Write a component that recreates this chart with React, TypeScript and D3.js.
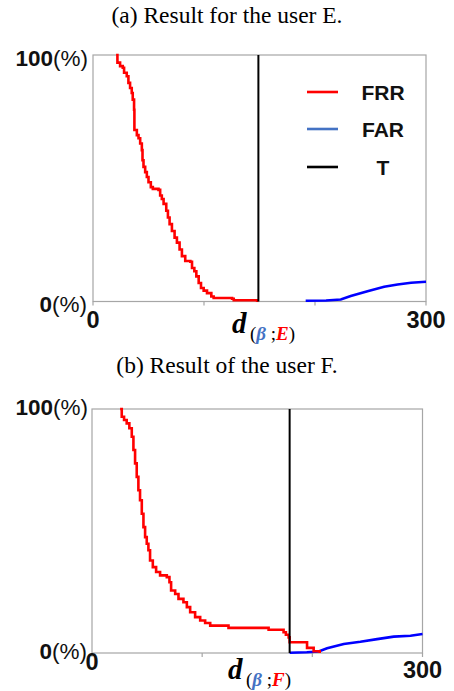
import React from "react";
import * as d3 from "d3";

// ---- Data ----
const xTicks = [0, 100, 200, 300];
const xTickLabels = ["0", "300"];
const yTickLabels = ["100", "0"];
const legendLabels = ["FRR", "FAR", "T"];

// Panel (a): user E
const frrA_d = [20.8, 22.0, 24.4, 26.8, 28.0, 30.4, 31.9, 33.4, 34.9, 35.8, 37.0, 37.3, 39.5, 41.0, 42.5, 44.0, 44.6, 45.5, 47.0, 48.5, 50.0, 52.1, 53.9, 59.0, 60.5, 62.0, 63.6, 66.0, 67.5, 69.0, 71.1, 73.5, 75.6, 78.0, 80.1, 83.1, 87.7, 89.2, 91.3, 93.1, 95.2, 97.3, 99.7, 102.7, 106.6, 108.7, 125.3, 126.8, 147.9, 149];
const frrA_p = [100, 96.9, 95.5, 94.8, 92.8, 91.4, 88.7, 86.6, 84.6, 81.9, 77.8, 69.6, 67.5, 66.2, 64.1, 61.4, 57.3, 54.6, 52.5, 50.5, 48.4, 46.4, 45.7, 45.3, 43.0, 41.6, 39.6, 36.8, 34.1, 31.4, 28.6, 25.9, 23.9, 21.1, 18.4, 16.4, 16.1, 13.6, 12.3, 10.2, 7.5, 5.5, 4.4, 3.4, 2.0, 1.4, 1.1, 0.5, 0.3, 0.3];
const farA_d = [191.6, 210, 223.2, 232.2, 247.3, 262.3, 274.4, 286.5, 300];
const farA_p = [0.3, 0.4, 0.8, 2.2, 4.2, 6.0, 6.9, 7.6, 8.0];
const thresholdA = 149;

// Panel (b): user F
const frrB_d = [25.5, 27.0, 29.1, 31.5, 33.9, 36.1, 37.6, 39.1, 40.6, 42.1, 43.6, 45.2, 46.7, 48.2, 49.7, 51.2, 52.7, 55.2, 58.2, 61.8, 67.9, 70.3, 71.8, 75.5, 78.5, 83.0, 86.1, 89.1, 93.6, 98.2, 102.7, 107.3, 123.9, 160.3, 173.9, 176.0, 178.5, 179.4, 195.2, 201.2, 206.7];
const frrB_p = [100, 96.8, 95.5, 94.1, 92.1, 88.6, 83.2, 77.7, 72.2, 66.7, 62.6, 57.1, 51.6, 47.5, 44.8, 42.1, 37.9, 35.2, 33.2, 31.8, 31.1, 29.0, 25.6, 24.2, 22.2, 20.8, 18.8, 16.7, 14.7, 13.3, 12.3, 11.2, 10.3, 9.5, 8.5, 7.5, 6.4, 4.4, 2.1, 0.7, 0];
const farB_d = [179.4, 195, 205.7, 213.4, 228.5, 243.6, 258.8, 273.9, 289.1, 300];
const farB_p = [0.1, 0.3, 0.6, 1.9, 3.7, 4.6, 5.7, 6.7, 7.1, 7.8];
const thresholdB = 179.4;

const RED = "#ff0000";
const BLUE = "#0000ff";
const LEGEND_BLUE = "#4472c4";
const ARIAL = "'Liberation Sans', Arial, sans-serif";
const SERIF = "'Liberation Serif', 'Times New Roman', serif";

type PanelProps = {
  title: string;
  titleY: number;
  left: number;
  right: number;
  top: number;
  bottom: number;
  frrD: number[];
  frrP: number[];
  farD: number[];
  farP: number[];
  threshold: number;
  user: string;
  legend: boolean;
  lab: { y100: number; y0: number; x0: number; x300: number; dx: number; dy: number; subY: number };
};

function Panel(p: PanelProps) {
  const x = d3.scaleLinear().domain([0, 300]).range([p.left, p.right]);
  const y = d3.scaleLinear().domain([0, 100]).range([p.bottom, p.top]);
  const frrLine = d3
    .line<number>()
    .x((d) => x(p.frrD[d]))
    .y((d) => y(p.frrP[d]))
    .curve(d3.curveStepAfter);
  const farLine = d3
    .line<number>()
    .x((d) => x(p.farD[d]))
    .y((d) => y(p.farP[d]));
  const frrPath = frrLine(d3.range(p.frrD.length)) || "";
  const farPath = farLine(d3.range(p.farD.length)) || "";

  const legendX = 307;
  const legendYs = [92, 129, 167];
  const legendColors = [RED, LEGEND_BLUE, "#000"];

  return (
    <g>
      <text x={227} y={p.titleY} textAnchor="middle" fontFamily={SERIF} fontSize={23.5} fill="#000">
        {p.title}
      </text>
      <rect x={p.left} y={p.top} width={p.right - p.left} height={p.bottom - p.top} fill="#fff" stroke="#a6a6a6" strokeWidth={1.2} />
      {xTicks.map((t) => (
        <line key={t} x1={x(t)} x2={x(t)} y1={p.bottom} y2={p.bottom + 4} stroke="#a6a6a6" strokeWidth={1.2} />
      ))}
      <path d={farPath} fill="none" stroke={BLUE} strokeWidth={2.6} />
      <path d={frrPath} fill="none" stroke={RED} strokeWidth={2.6} />
      <line x1={x(p.threshold)} x2={x(p.threshold)} y1={p.top} y2={p.bottom} stroke="#000" strokeWidth={2} />

      {/* y labels */}
      <text x={88} y={p.lab.y100} textAnchor="end" fontFamily={ARIAL} fontSize={22.5} fill="#111">
        <tspan fontWeight="bold">{yTickLabels[0]}</tspan>
        <tspan fontWeight="normal">(%)</tspan>
      </text>
      <text x={87} y={p.lab.y0} textAnchor="end" fontFamily={ARIAL} fontSize={22.5} fill="#111">
        <tspan fontWeight="bold">{yTickLabels[1]}</tspan>
        <tspan fontWeight="normal">(%)</tspan>
      </text>

      {/* x tick labels */}
      <text x={x(0)} y={p.lab.x0} textAnchor="middle" fontFamily={ARIAL} fontWeight="bold" fontSize={23.5} fill="#111">
        {xTickLabels[0]}
      </text>
      <text x={x(300)} y={p.lab.x300} textAnchor="middle" fontFamily={ARIAL} fontWeight="bold" fontSize={23.5} fill="#111">
        {xTickLabels[1]}
      </text>

      {/* x axis label */}
      <text x={p.lab.dx} y={p.lab.dy} fontFamily={SERIF} fontStyle="italic" fontWeight="bold" fontSize={29} fill="#000">
        d
      </text>
      <text x={p.lab.dx + 18} y={p.lab.subY} fontFamily={SERIF} fontSize={19} fill="#000">
        <tspan>(</tspan>
        <tspan fontStyle="italic" fontWeight="bold" fill={LEGEND_BLUE}>β</tspan>
        <tspan> ;</tspan>
        <tspan fontStyle="italic" fontWeight="bold" fill={RED}>{p.user}</tspan>
        <tspan>)</tspan>
      </text>

      {p.legend &&
        legendLabels.map((lab, i) => (
          <g key={lab}>
            <line x1={legendX} x2={legendX + 31} y1={legendYs[i]} y2={legendYs[i]} stroke={legendColors[i]} strokeWidth={2.6} />
            <text x={383} y={legendYs[i] + 8} textAnchor="middle" fontFamily={ARIAL} fontWeight="bold" fontSize={21} fill="#111">
              {lab}
            </text>
          </g>
        ))}
    </g>
  );
}

export default function App() {
  return (
    <svg
      width={454}
      height={691}
      viewBox="0 0 454 691"
      style={{ position: "absolute", left: 0, top: 0, background: "#fff" }}
    >
      <rect width={454} height={691} fill="#fff" />
      <Panel
        title="(a) Result for the user E."
        titleY={22.5}
        left={93}
        right={426}
        top={55}
        bottom={301.5}
        frrD={frrA_d}
        frrP={frrA_p}
        farD={farA_d}
        farP={farA_p}
        threshold={thresholdA}
        user="E"
        legend={true}
        lab={{ y100: 66, y0: 311.5, x0: 328, x300: 328, dx: 232, dy: 332.5, subY: 340 }}
      />
      <Panel
        title="(b) Result of the user F."
        titleY={372.5}
        left={92}
        right={422.5}
        top={409}
        bottom={653}
        frrD={frrB_d}
        frrP={frrB_p}
        farD={farB_d}
        farP={farB_p}
        threshold={thresholdB}
        user="F"
        legend={false}
        lab={{ y100: 415, y0: 659, x0: 670, x300: 677.5, dx: 228, dy: 679, subY: 686 }}
      />
    </svg>
  );
}
